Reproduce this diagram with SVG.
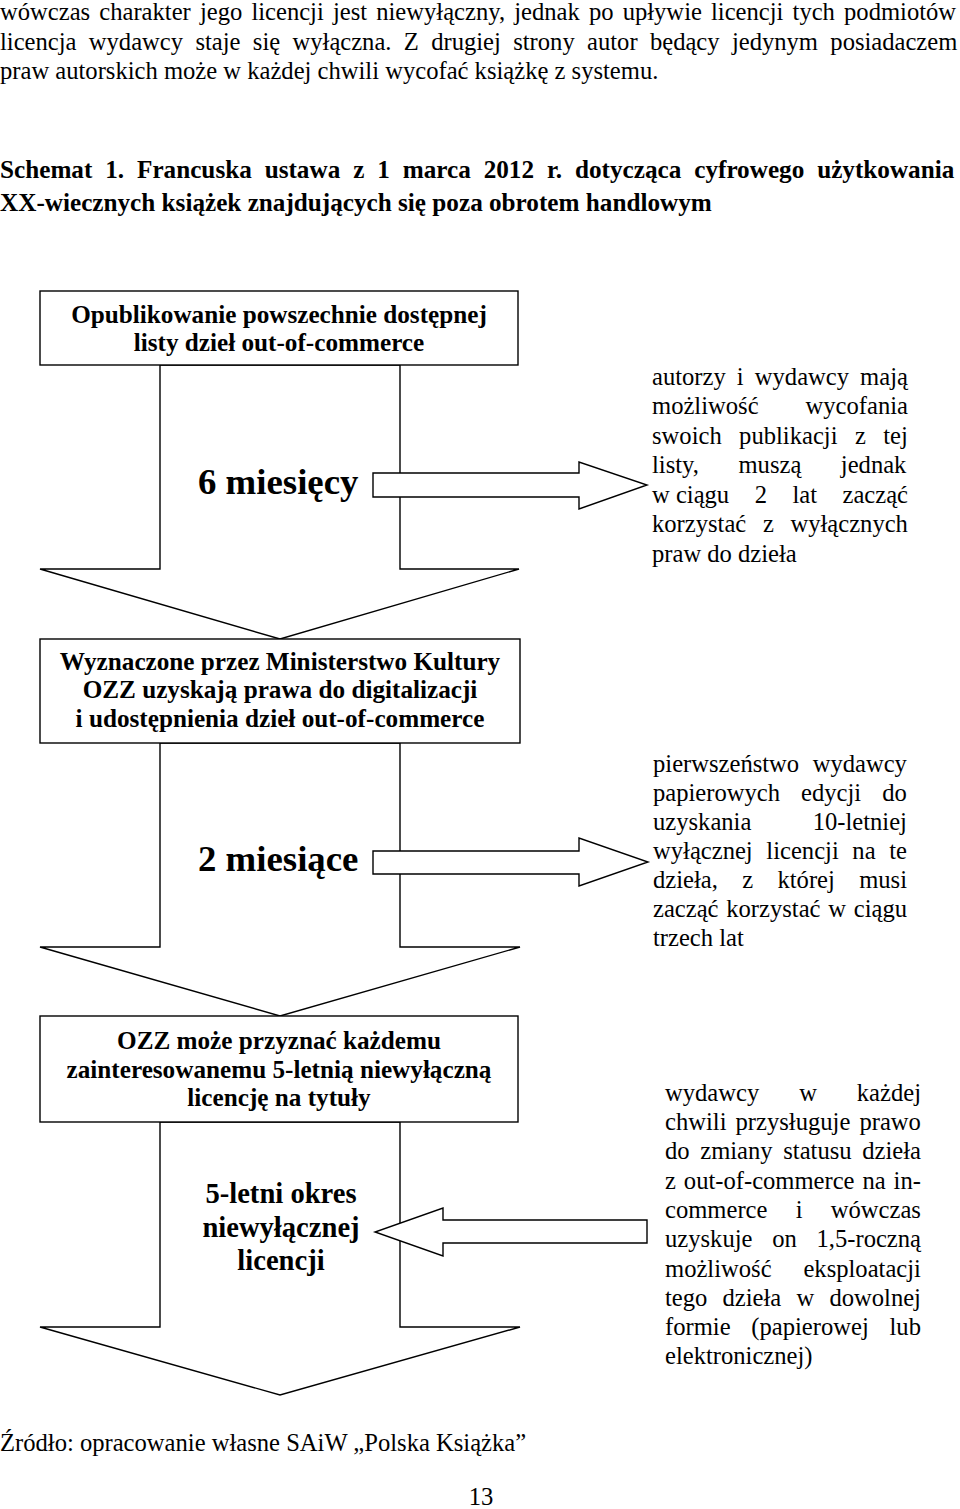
<svg xmlns="http://www.w3.org/2000/svg" width="960" height="1509" viewBox="0 0 960 1509">
<style>
.t{font-family:"Liberation Serif","Times New Roman",serif;font-size:24.6px;fill:#000}
.b{font-family:"Liberation Serif","Times New Roman",serif;font-weight:bold;font-size:25.2px;fill:#000}
.c{text-anchor:middle}
.big{font-family:"Liberation Serif","Times New Roman",serif;font-weight:bold;font-size:36.8px;fill:#000}
.mid{font-family:"Liberation Serif","Times New Roman",serif;font-weight:bold;font-size:28.6px;fill:#000;text-anchor:middle}
.s{fill:#fff;stroke:#000;stroke-width:1.4;stroke-linejoin:miter}
</style>
<rect width="960" height="1509" fill="#fff"/>

<g id="intro">
<text class="t" x="0" y="20" word-spacing="3">wówczas charakter jego licencji jest niewyłączny, jednak po upływie licencji tych podmiotów</text>
<text class="t" x="0" y="50" word-spacing="6.2">licencja wydawcy staje się wyłączna. Z drugiej strony autor będący jedynym posiadaczem</text>
<text class="t" x="0" y="79">praw autorskich może w każdej chwili wycofać książkę z systemu.</text>
</g>

<g id="title">
<text class="b" x="0" y="178" word-spacing="6.6">Schemat 1. Francuska ustawa z 1 marca 2012 r. dotycząca cyfrowego użytkowania</text>
<text class="b" x="0" y="211">XX-wiecznych książek znajdujących się poza obrotem handlowym</text>
</g>

<g id="connectors">
<polygon id="down1" class="s" points="160,365 160,569 40,569 280,639 519,569 400,569 400,365"/>
<polygon id="down2" class="s" points="160,743 160,947 40,947 280,1016 520,947 400,947 400,743"/>
<polygon id="down3" class="s" points="160,1122 160,1327 40,1327 280,1395 520,1327 400,1327 400,1122"/>
<polygon id="right1" class="s" points="373,473 579,473 579,462 647,485 579,509 579,497 373,497"/>
<polygon id="right2" class="s" points="373,851 579,851 579,838 648,862 579,886 579,874 373,874"/>
<polygon id="left3" class="s" points="647,1220 443,1220 443,1208 375,1232 443,1256 443,1243 647,1243"/>
</g>

<g id="box1">
<rect class="s" x="40" y="291" width="478" height="74"/>
<text class="b c" x="279" y="323">Opublikowanie powszechnie dostępnej</text>
<text class="b c" x="279" y="351">listy dzieł out-of-commerce</text>
</g>

<g id="period1">
<text class="big" x="198" y="494">6 miesięcy</text>
</g>

<g id="note1">
<text class="t" x="652" y="385" word-spacing="4.95">autorzy i wydawcy mają</text>
<text class="t" x="652" y="414" word-spacing="40.8">możliwość wycofania</text>
<text class="t" x="652" y="444" word-spacing="11.3">swoich publikacji z tej</text>
<text class="t" x="652" y="473" word-spacing="33.4">listy, muszą jednak</text>
<text class="t" y="503"><tspan x="652">w ciągu</tspan><tspan x="754.7">2</tspan><tspan x="792.4">lat</tspan><tspan x="908" text-anchor="end">zacząć</tspan></text>
<text class="t" x="652" y="532" word-spacing="10.5">korzystać z wyłącznych</text>
<text class="t" x="652" y="562">praw do dzieła</text>
</g>

<g id="box2">
<rect class="s" x="40" y="639" width="480" height="104"/>
<text class="b c" x="280" y="670">Wyznaczone przez Ministerstwo Kultury</text>
<text class="b c" x="280" y="698">OZZ uzyskają prawa do digitalizacji</text>
<text class="b c" x="280" y="727">i udostępnienia dzieł out-of-commerce</text>
</g>

<g id="period2">
<text class="big" x="198" y="871">2 miesiące</text>
</g>

<g id="note2">
<text class="t" x="653" y="772" word-spacing="7.35">pierwszeństwo wydawcy</text>
<text class="t" x="653" y="801" word-spacing="14.95">papierowych edycji do</text>
<text class="t" x="653" y="830" word-spacing="55.15">uzyskania 10-letniej</text>
<text class="t" x="653" y="859" word-spacing="7.5">wyłącznej licencji na te</text>
<text class="t" x="653" y="888" word-spacing="18.2">dzieła, z której musi</text>
<text class="t" x="653" y="917" word-spacing="1.6">zacząć korzystać w ciągu</text>
<text class="t" x="653" y="946">trzech lat</text>
</g>

<g id="box3">
<rect class="s" x="40" y="1016" width="478" height="106"/>
<text class="b c" x="279" y="1049">OZZ może przyznać każdemu</text>
<text class="b c" x="279" y="1078">zainteresowanemu 5-letnią niewyłączną</text>
<text class="b c" x="279" y="1106">licencję na tytuły</text>
</g>

<g id="period3">
<text class="mid" x="281" y="1203">5-letni okres</text>
<text class="mid" x="281" y="1237">niewyłącznej</text>
<text class="mid" x="281" y="1270">licencji</text>
</g>

<g id="note3">
<text class="t" x="665" y="1101" word-spacing="33.75">wydawcy w każdej</text>
<text class="t" x="665" y="1130" word-spacing="2.95">chwili przysługuje prawo</text>
<text class="t" x="665" y="1159" word-spacing="4.5">do zmiany statusu dzieła</text>
<text class="t" x="665" y="1189" word-spacing="1.77">z out-of-commerce na in-</text>
<text class="t" x="665" y="1218" word-spacing="22.1">commerce i wówczas</text>
<text class="t" x="665" y="1247" word-spacing="13.6">uzyskuje on 1,5-roczną</text>
<text class="t" x="665" y="1277" word-spacing="25.75">możliwość eksploatacji</text>
<text class="t" x="665" y="1306" word-spacing="9.05">tego dzieła w dowolnej</text>
<text class="t" x="665" y="1335" word-spacing="14.6">formie (papierowej lub</text>
<text class="t" x="665" y="1364">elektronicznej)</text>
</g>

<g id="footer">
<text class="t" x="0" y="1451">Źródło: opracowanie własne SAiW „Polska Książka”</text>
<text class="t c" x="481" y="1505">13</text>
</g>
</svg>
